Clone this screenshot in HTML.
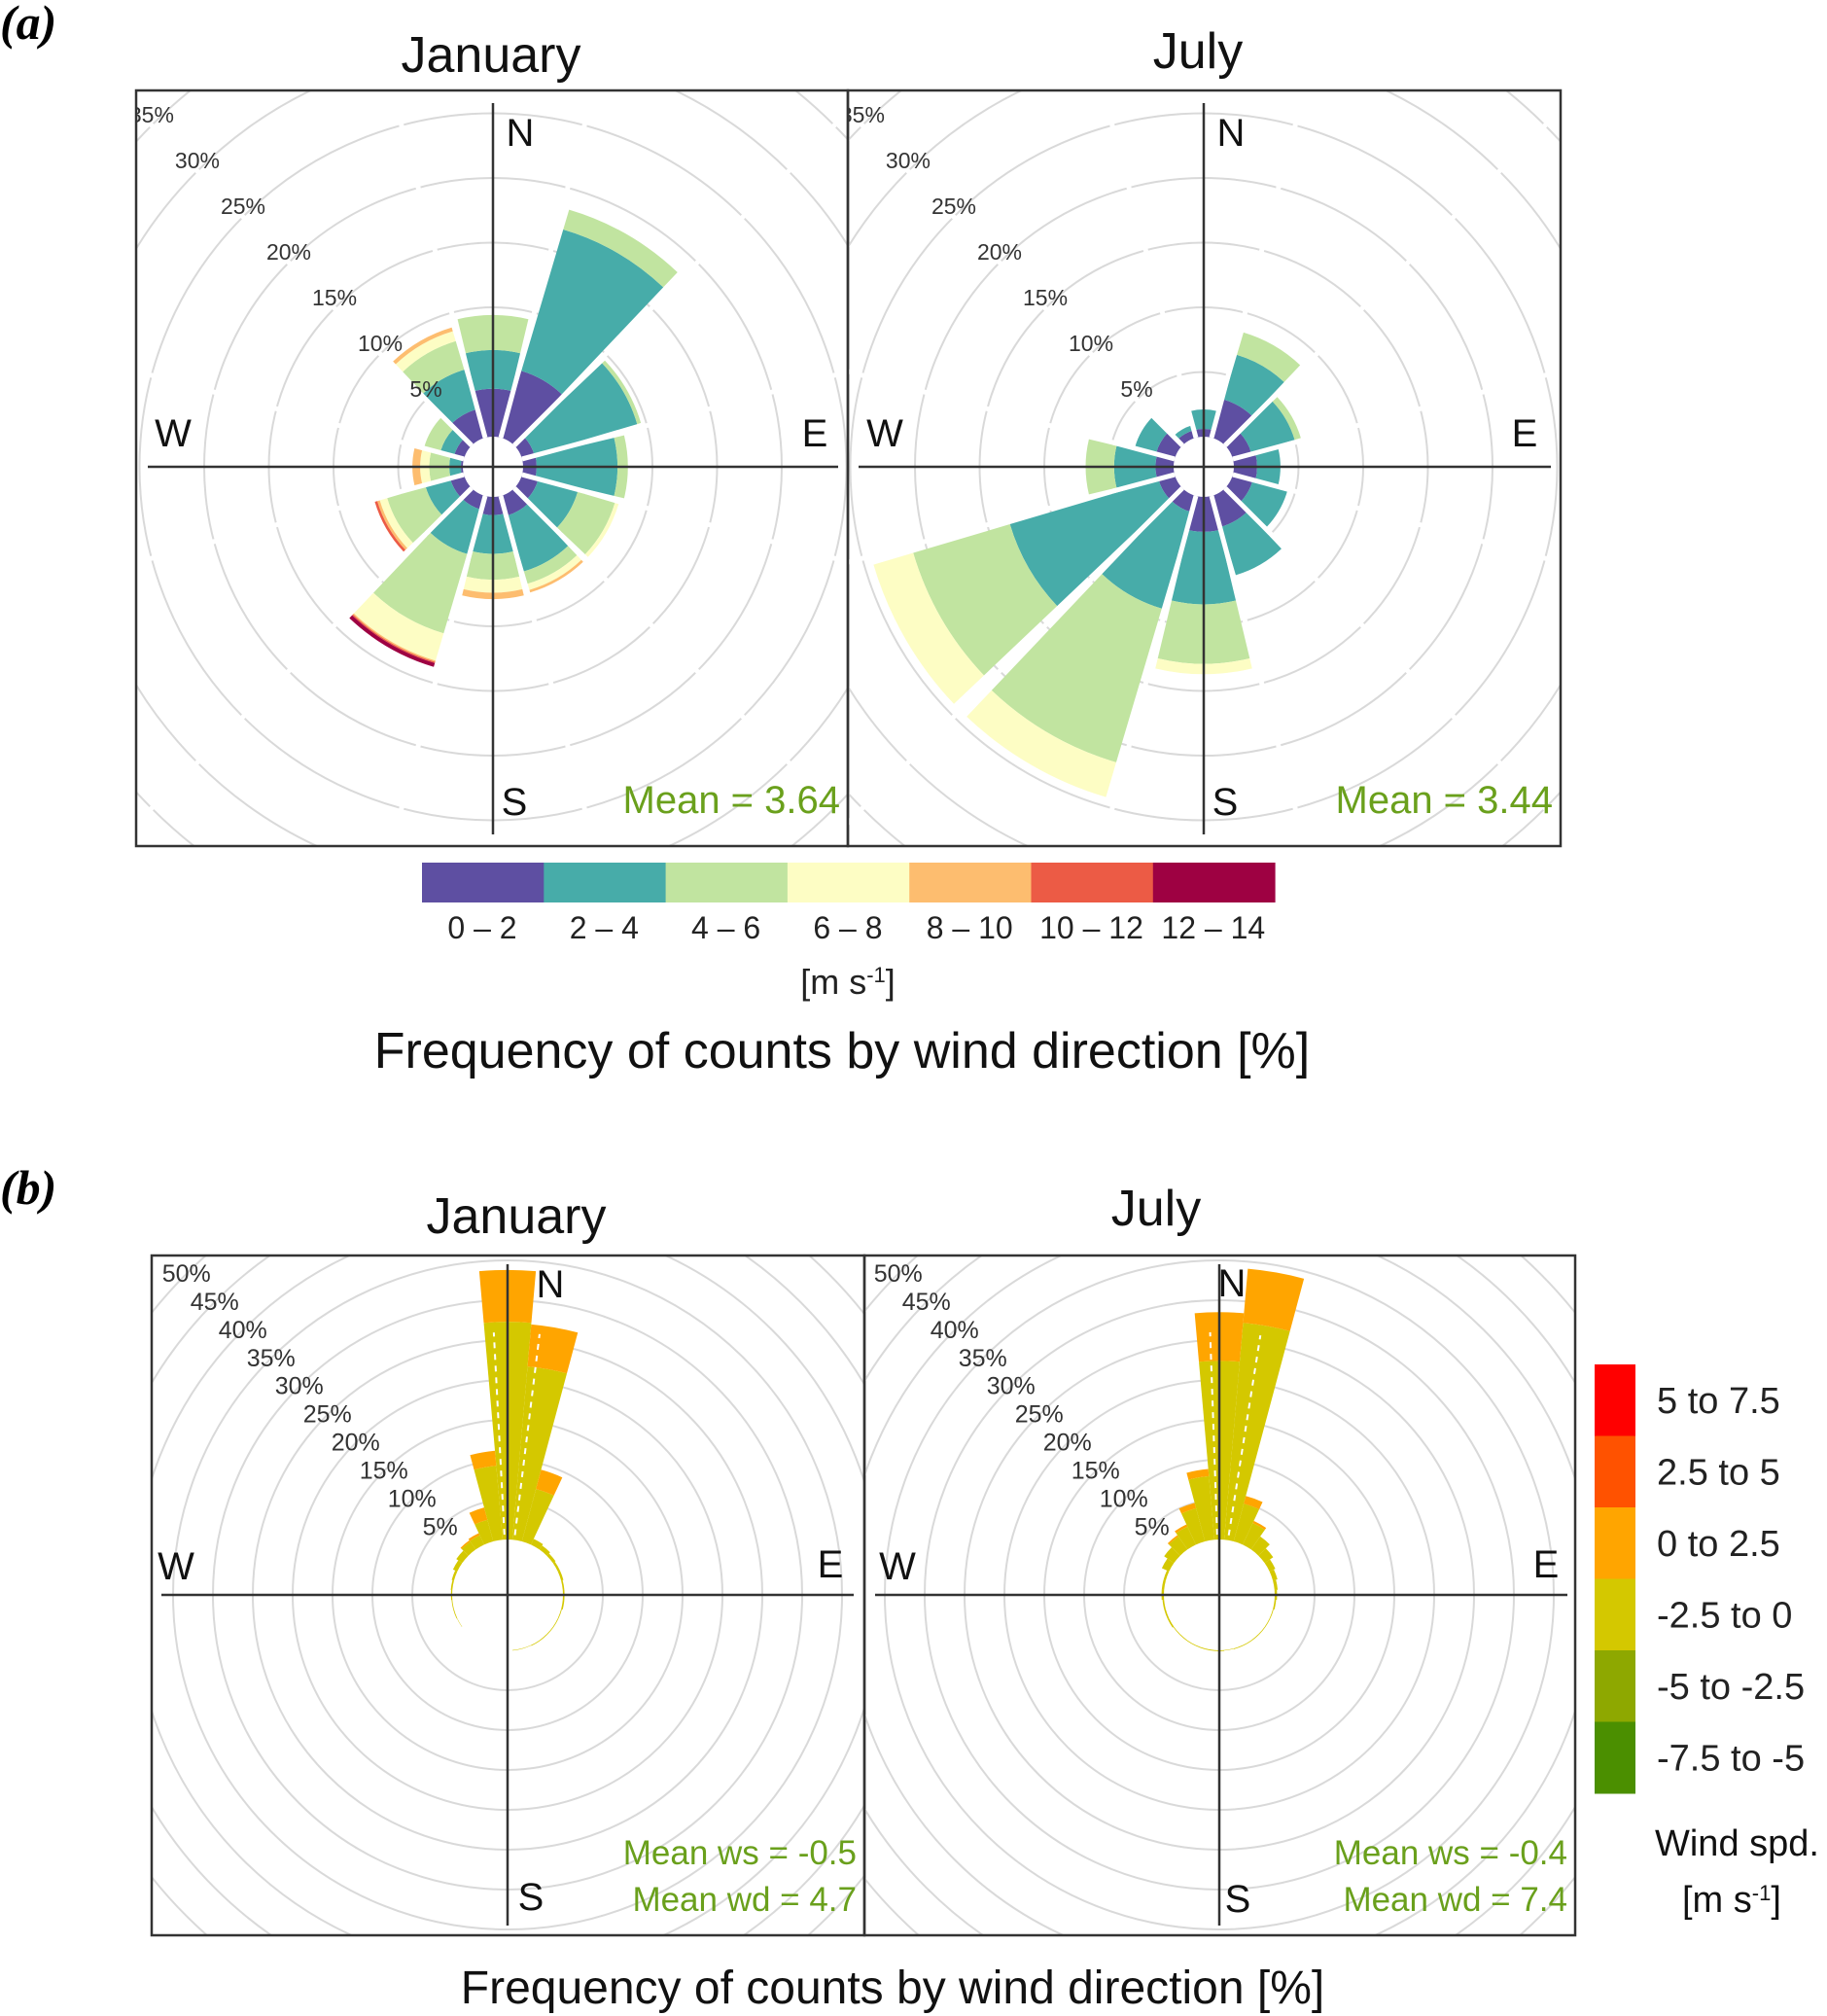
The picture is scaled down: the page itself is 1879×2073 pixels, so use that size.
<!DOCTYPE html>
<html><head><meta charset="utf-8"><style>
html,body{margin:0;padding:0;background:#fff;}
svg{display:block;font-family:"Liberation Sans",sans-serif;}
</style></head><body>
<svg id="fig" width="1879" height="2073" viewBox="0 0 1879 2073" xmlns="http://www.w3.org/2000/svg">
<defs>
<clipPath id="c1"><rect x="141" y="94" width="731" height="776"/></clipPath>
<clipPath id="c2"><rect x="873" y="94" width="731" height="776"/></clipPath>
<clipPath id="c3"><rect x="157" y="1292" width="731" height="697"/></clipPath>
<clipPath id="c4"><rect x="890" y="1292" width="729" height="697"/></clipPath>
</defs>
<g id="root"></g>
</svg>
<script>
// ---- data: panel (a), 12 directions, frequency (%) per speed bin ----
const dirsA = [0,30,60,90,120,150,180,210,240,270,300,330];
const speedBins = ["0 – 2","2 – 4","4 – 6","6 – 8","8 – 10","10 – 12","12 – 14"];
const jan_0_2  = [3.7,5.4,1.0,1.05,1.3,1.6,1.4,1.1,1.1,0.15,0.8,2.3];
const jan_2_4  = [3.0,11.4,8.3,6.25,3.2,4.5,3.0,3.6,2.0,0.9,1.1,3.2];
const jan_4_6  = [2.7,1.6,0.3,0.8,3.0,1.0,2.0,6.4,3.1,1.55,1.3,2.3];
const jan_6_8  = [0,0,0,0,0.3,0.5,1.0,2.2,0.6,0.7,0,0.8];
const jan_8_10 = [0,0,0,0,0,0.2,0.5,0.1,0.2,0.6,0,0.3];
const jan_10_12= [0,0,0,0,0,0,0,0.1,0.2,0,0,0];
const jan_12_14= [0,0,0,0,0,0,0,0.3,0,0,0,0];
const jul_0_2  = [0.6,3.1,1.5,1.8,1.6,2.5,2.7,1.3,1.3,1.4,1.5,0.6];
const jul_2_4  = [1.5,3.6,3.5,1.8,2.8,3.9,5.6,7.8,12.0,3.2,1.7,0.4];
const jul_4_6  = [0,1.8,0.5,0,0,0,4.6,12.4,7.8,2.2,0,0];
const jul_6_8  = [0,0,0,0,0,0,0.8,2.8,3.2,0,0,0];
const jul_8_10 = [0,0,0,0,0,0,0,0,0,0,0,0];
const jul_10_12= [0,0,0,0,0,0,0,0,0,0,0,0];
const jul_12_14= [0,0,0,0,0,0,0,0,0,0,0,0];
const ticksA = [5,10,15,20,25,30,35];
// ---- data: panel (b), 36 directions, frequency (%) per bin ----
const dirsB = [0,10,20,30,40,50,60,70,80,90,100,110,120,130,140,150,160,170,180,190,200,210,220,230,240,250,260,270,280,290,300,310,320,330,340,350];
const diffBins = ["5 to 7.5","2.5 to 5","0 to 2.5","-2.5 to 0","-5 to -2.5","-7.5 to -5"];
const janB_neg = [27.3,21.8,6.8,0.8,0.6,0.4,0.3,0.3,0.2,0.2,0.2,0.1,0.1,0.1,0.1,0.1,0.05,0.05,0,0,0,0,0,0,0.05,0.1,0.1,0.15,0.2,0.3,0.6,0.9,1.2,1.3,2.8,9.3];
const janB_pos = [6.5,5.3,2.5,0,0,0,0,0,0,0,0,0,0,0,0,0,0,0,0,0,0,0,0,0,0,0,0,0,0,0,0,0,0.2,0.3,1.6,1.9];
const julB_neg = [22.4,27.3,4.9,3.0,2.0,1.3,0.8,0.6,0.4,0.3,0.2,0.1,0.1,0.1,0.1,0.1,0.1,0.05,0.1,0.1,0.1,0.1,0.1,0.1,0.2,0.2,0.2,0.3,0.3,0.3,1.0,1.5,2.0,2.5,4.3,8.0];
const julB_pos = [6.1,6.8,1.0,0.3,0,0,0,0,0,0,0,0,0,0,0,0,0,0,0,0,0,0,0,0,0,0,0,0,0,0,0,0,0.2,0.3,0.7,0.9];
const ticksB = [5,10,15,20,25,30,35,40,45,50,55];

const colA = ["#5e4fa2","#47aca9","#c1e4a0","#fdfdc4","#fdbd6f","#ec5b45","#9e0142"];
const colB = ["#ff0000","#ff5200","#ffa500","#d4c800","#8ea800","#4b8f00"];
const NS = "http://www.w3.org/2000/svg";
const root = document.getElementById('root');
function el(tag, attrs, parent, text){
  const e = document.createElementNS(NS, tag);
  for (const k in attrs) e.setAttribute(k, attrs[k]);
  if (text !== undefined) e.textContent = text;
  (parent || root).appendChild(e);
  return e;
}
function pt(cx, cy, r, a){ const t = a*Math.PI/180; return [cx + r*Math.sin(t), cy - r*Math.cos(t)]; }
function sector(cx, cy, r0, r1, a, hw){
  const p1 = pt(cx,cy,r0,a-hw), p2 = pt(cx,cy,r1,a-hw), p3 = pt(cx,cy,r1,a+hw), p4 = pt(cx,cy,r0,a+hw);
  return `M${p1[0]},${p1[1]} L${p2[0]},${p2[1]} A${r1},${r1} 0 0 1 ${p3[0]},${p3[1]} L${p4[0]},${p4[1]} A${r0},${r0} 0 0 0 ${p1[0]},${p1[1]} Z`;
}
function panel(o){
  const g = el('g', {'clip-path': `url(#${o.clip})`});
  
  
  const rad = p => o.hole + o.k * p;
  o.ticks.forEach(t => {
    const c = el('circle', {cx:o.cx, cy:o.cy, r:rad(t), fill:'none', stroke:'#d9d9d9', 'stroke-width':2}, g);
    
    
  });
  o.dirs.forEach((d, i) => {
    let cum = 0;
    o.series.forEach((s, j) => {
      const v = s[i]; if (!v) return;
      const path = el('path', {d: sector(o.cx, o.cy, rad(cum), rad(cum+v), d, o.hw), fill: o.colors[j]}, g);
      
      
      cum += v;
    });
  });
  if (o.gaps) o.dirs.forEach(d => {
    const p0 = pt(o.cx,o.cy,o.hole,d-15), p1 = pt(o.cx,o.cy,600,d-15);
    el('line', {x1:p0[0], y1:p0[1], x2:p1[0], y2:p1[1], stroke:'#fff', 'stroke-width':5}, g);
  });
  if (o.dashes) o.dashes.forEach(a => {
    const p0 = pt(o.cx,o.cy,o.hole+5,a), p1 = pt(o.cx,o.cy,rad(26),a);
    const l = el('line', {x1:p0[0], y1:p0[1], x2:p1[0], y2:p1[1], stroke:'#fff', 'stroke-width':2, 'stroke-dasharray':'6 6'}, g);
    
    
  });
  el('circle', {cx:o.cx, cy:o.cy, r:o.hole-1, fill:'#fff'}, g);
  const ax = el('line', {x1:o.ax[0], y1:o.cy, x2:o.ax[1], y2:o.cy, stroke:'#333', 'stroke-width':2.5}, g);
  
  
  const ay = el('line', {x1:o.cx, y1:o.ay[0], x2:o.cx, y2:o.ay[1], stroke:'#333', 'stroke-width':2.5}, g);
  
  
  o.ticks.forEach(t => {
    const r = rad(t) * 0.7071;
    const tx = el('text', {x:o.cx - r, y:o.cy - r + o.ty, 'font-size':o.tf, fill:'#333', 'text-anchor':'middle'}, g, t + '%');
    
    
  });
  o.compass.forEach(c => {
    const t = el('text', {x:c[1], y:c[2], 'font-size':40, fill:'#111', 'text-anchor':'middle'}, g, c[0]);
    
    
  });
  const f = el('rect', {x:o.box[0], y:o.box[1], width:o.box[2]-o.box[0], height:o.box[3]-o.box[1], fill:'none', stroke:'#333', 'stroke-width':2.5});
  
  
  o.means.forEach(m => {
    const t = el('text', {x:o.box[2]-8, y:m[1], 'font-size':o.mf, fill:'#6aa01c', 'text-anchor':'end'}, null, m[0]);
    
    
  });
  const tt = el('text', {x:o.title[1], y:o.title[2], 'font-size':52, fill:'#111', 'text-anchor':'middle'}, null, o.title[0]);
  
  
}
const janA = [jan_0_2,jan_2_4,jan_4_6,jan_6_8,jan_8_10,jan_10_12,jan_12_14];
const julA = [jul_0_2,jul_2_4,jul_4_6,jul_6_8,jul_8_10,jul_10_12,jul_12_14];
panel({name:'jan-a', clip:'c1', cx:507, cy:480, hole:31, k:13.3, ticks:ticksA, tf:23, ty:-3, dirs:dirsA, hw:13.5, gaps:true,
  series:janA, colors:colA, ax:[152,862], ay:[106,858], box:[140,93,872,870],
  compass:[['N',535,150],['W',178,459],['E',838,459],['S',529,838]],
  means:[['Mean = 3.64',836]], mf:40, title:['January',505,74]});
panel({name:'jul-a', clip:'c2', cx:1238, cy:480, hole:31, k:13.3, ticks:ticksA, tf:23, ty:-3, dirs:dirsA, hw:13.5, gaps:true,
  series:julA, colors:colA, ax:[883,1595], ay:[106,858], box:[872,93,1605,870],
  compass:[['N',1266,150],['W',910,459],['E',1568,459],['S',1260,838]],
  means:[['Mean = 3.44',836]], mf:40, title:['July',1232,70]});
panel({name:'jan-b', clip:'c3', cx:522, cy:1640, hole:57, k:8.2, ticks:ticksB, tf:25, ty:8, dirs:dirsB, hw:5,
  series:[janB_neg, janB_pos], colors:[colB[3], colB[2]], ax:[166,878], ay:[1300,1980], box:[156,1291,889,1990],
  compass:[['N',566,1334],['W',181,1624],['E',854,1622],['S',546,1964]], dashes:[-3,7],
  means:[['Mean ws = -0.5',1917],['Mean wd = 4.7',1965]], mf:35, title:['January',531,1268]});
panel({name:'jul-b', clip:'c4', cx:1254, cy:1640, hole:57, k:8.2, ticks:ticksB, tf:25, ty:8, dirs:dirsB, hw:5,
  series:[julB_neg, julB_pos], colors:[colB[3], colB[2]], ax:[900,1612], ay:[1300,1980], box:[889,1291,1620,1990],
  compass:[['N',1267,1333],['W',923,1624],['E',1590,1622],['S',1273,1966]], dashes:[-2,9],
  means:[['Mean ws = -0.4',1917],['Mean wd = 7.4',1965]], mf:35, title:['July',1189,1260]});

speedBins.forEach((b, i) => {
  const x = 434 + i*125.3;
  const r = el('rect', {x:x, y:887, width:125.8, height:41, fill:colA[i]});
  
  
  const t = el('text', {x:x+62, y:965, 'font-size':32, fill:'#222', 'text-anchor':'middle'}, null, b);
  
  
});
diffBins.forEach((b, i) => {
  const y = 1403 + i*73.5;
  const r = el('rect', {x:1640, y:y, width:42, height:74, fill:colB[i]});
  
  
  const t = el('text', {x:1704, y:y+50, 'font-size':38, fill:'#222'}, null, b);
  
  
});
</script>
<div style="position:absolute;left:0;top:0;width:1879px;height:2073px;pointer-events:none">
<svg width="1879" height="2073" style="position:absolute;left:0;top:0;font-family:'Liberation Sans',sans-serif">
<text x="0" y="40" font-family="Liberation Serif" font-style="italic" font-weight="bold" font-size="50" fill="#000">(a)</text>
<text x="0" y="1238" font-family="Liberation Serif" font-style="italic" font-weight="bold" font-size="50" fill="#000">(b)</text>
<text x="872" y="1022" font-size="36" fill="#222" text-anchor="middle">[m s<tspan baseline-shift="super" font-size="22">-1</tspan>]</text>
<text x="866" y="1098" font-size="52" fill="#111" text-anchor="middle">Frequency of counts by wind direction [%]</text>
<text x="918" y="2060" font-size="48" fill="#111" text-anchor="middle">Frequency of counts by wind direction [%]</text>
<text x="1702" y="1908" font-size="38" fill="#111">Wind spd.</text>
<text x="1730" y="1966" font-size="38" fill="#111">[m s<tspan baseline-shift="super" font-size="22">-1</tspan>]</text>
</svg>
</div>
</body></html>
